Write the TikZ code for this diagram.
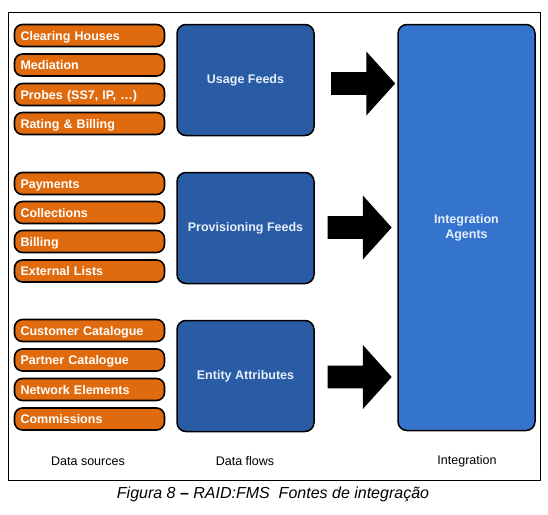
\documentclass[tikz,border=0pt]{standalone}
\usepackage{fontspec}
\setmainfont{Liberation Sans}
\usetikzlibrary{positioning,shapes.arrows}

\definecolor{srcorange}{RGB}{224,106,14}
\definecolor{flowblue}{RGB}{42,92,166}
\definecolor{intblue}{RGB}{53,116,204}
\definecolor{boxtext}{RGB}{230,238,250}

\tikzset{
  source/.style={draw=black,line width=1.6pt,fill=srcorange,rounded corners=8pt,
    minimum width=150pt,minimum height=22pt,inner xsep=6pt,inner ysep=0pt,
    text height=9pt,text depth=0pt,
    text width=138pt,align=left,text=white,font=\bfseries\fontsize{12.5}{14}\selectfont},
  flow/.style={draw=black,line width=1.5pt,fill=flowblue,rounded corners=9pt,
    minimum width=137pt,minimum height=111pt,align=center,text=boxtext,
    font=\bfseries\fontsize{12.5}{15}\selectfont},
  bigarrow/.style={single arrow,fill=black,minimum width=64pt,minimum height=64pt,
    single arrow head extend=20pt,single arrow tip angle=96,inner sep=0pt,
    text height=0pt,text depth=0pt,inner ysep=11pt},
  footer/.style={font=\fontsize{12.5}{14}\selectfont}
}

\begin{document}
\begin{tikzpicture}[x=1pt,y=-1pt]
\useasboundingbox (0,0) rectangle (548,514);
% outer frame
\draw[line width=1pt] (8,12) rectangle (540,480);

% Data sources
\node[source] (clearing) at (89.5,35.5) {Clearing Houses};
\node[source] (mediation) at (89.5,65) {Mediation};
\node[source] (probes) at (89.5,94.5) {Probes (SS7, IP, \ldots)};
\node[source] (rating) at (89.5,123.5) {Rating \& Billing};

\node[source] (payments) at (89.5,183.5) {Payments};
\node[source] (collections) at (89.5,212.5) {Collections};
\node[source] (billing) at (89.5,241.5) {Billing};
\node[source] (external) at (89.5,271) {External Lists};

\node[source] (customer) at (89.5,330.5) {Customer Catalogue};
\node[source] (partner) at (89.5,360) {Partner Catalogue};
\node[source] (network) at (89.5,389.5) {Network Elements};
\node[source] (commissions) at (89.5,419) {Commissions};

% Data flows
\node[flow] (usage) at (245.5,80) {Usage Feeds};
\node[flow] (provisioning) at (245.5,228) {Provisioning Feeds};
\node[flow] (entity) at (245.5,376) {Entity Attributes};

% Integration
\node[flow,fill=intblue,minimum height=406pt] (agents) at (466.5,227.5) {Integration\\Agents};

% Arrows into integration
\node[bigarrow] (usagearrow) at (358,83.5) {};
\node[bigarrow] (provarrow) at (354.5,227.5) {};
\node[bigarrow] (entityarrow) at (354.5,377) {};

% Column labels
\node[footer] (srclabel) at (88,461) {Data sources};
\node[footer] (flowlabel) at (245,461) {Data flows};
\node[footer] (intlabel) at (467,461) {Integration};

% Caption
\node[font=\fontsize{16}{18}\selectfont] (caption) at (273,494)
  {\textit{Figura 8} \textbf{--} \textit{RAID:FMS\ \ Fontes de integração}};
\end{tikzpicture}
\end{document}
